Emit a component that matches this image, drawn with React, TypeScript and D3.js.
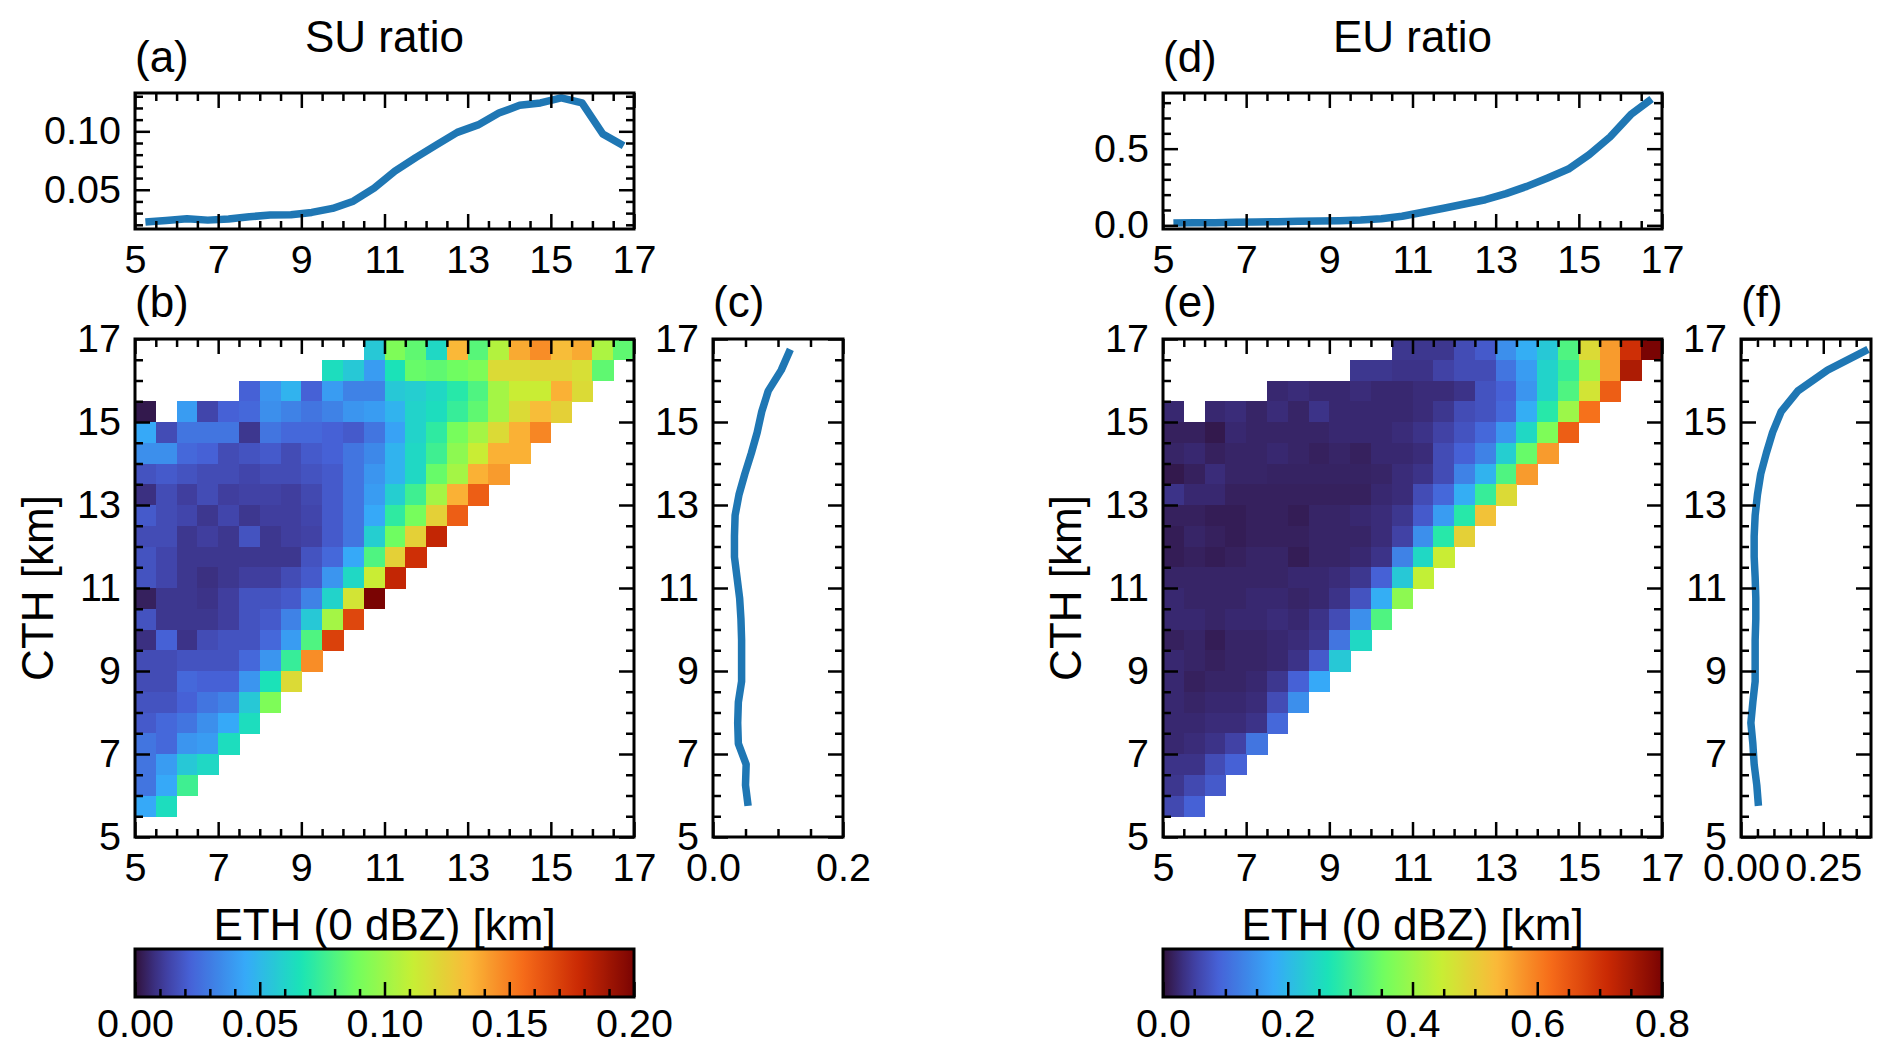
import React, { useRef, useEffect } from 'react';
import * as d3 from 'd3';

const _ = null;

// bin centres [km]
const ETH_BINS = [5.25, 5.75, 6.25, 6.75, 7.25, 7.75, 8.25, 8.75, 9.25, 9.75, 10.25, 10.75,
  11.25, 11.75, 12.25, 12.75, 13.25, 13.75, 14.25, 14.75, 15.25, 15.75, 16.25, 16.75];
// heatmap rows run from the top (16.75 km) down to the bottom (5.25 km)
const CTH_ROWS = [16.75, 16.25, 15.75, 15.25, 14.75, 14.25, 13.75, 13.25, 12.75, 12.25, 11.75, 11.25,
  10.75, 10.25, 9.75, 9.25, 8.75, 8.25, 7.75, 7.25, 6.75, 6.25, 5.75, 5.25];
const CTH_LINE = [5.75, 6.25, 6.75, 7.25, 7.75, 8.25, 8.75, 9.25, 9.75, 10.25, 10.75, 11.25,
  11.75, 12.25, 12.75, 13.25, 13.75, 14.25, 14.75, 15.25, 15.75, 16.25, 16.75];

const SU_BY_ETH = [0.0223, 0.0237, 0.0251, 0.024, 0.025, 0.0269, 0.0283, 0.0286, 0.0306, 0.034, 0.0402, 0.0514,
  0.0659, 0.0775, 0.0884, 0.0991, 0.1055, 0.1156, 0.1223, 0.1243, 0.1286, 0.1243, 0.0977, 0.0876];
const SU_BY_CTH = [0.054, 0.050, 0.051, 0.039, 0.038, 0.039, 0.044, 0.044, 0.044, 0.043, 0.041, 0.037,
  0.033, 0.033, 0.034, 0.040, 0.049, 0.059, 0.068, 0.075, 0.085, 0.105, 0.119];
const EU_BY_ETH = [0.015, 0.017, 0.017, 0.020, 0.022, 0.024, 0.026, 0.028, 0.030, 0.035, 0.043, 0.059,
  0.085, 0.111, 0.139, 0.167, 0.207, 0.254, 0.309, 0.367, 0.461, 0.576, 0.722, 0.824];
const EU_BY_CTH = [0.053, 0.048, 0.040, 0.036, 0.030, 0.036, 0.043, 0.043, 0.043, 0.045, 0.045, 0.043,
  0.040, 0.040, 0.043, 0.050, 0.060, 0.077, 0.096, 0.122, 0.173, 0.263, 0.386];

// SU ratio per (CTH row, ETH column); missing tail = empty
const SU_GRID: (number | null)[][] = [
  [_, _, _, _, _, _, _, _, _, _, _, .056, .092, .084, .062, .134, .082, .106, .138, .146, .132, .138, .104, .084],
  [_, _, _, _, _, _, _, _, _, .064, .056, .040, .066, .086, .084, .088, .092, .120, .120, .122, .122, .118, .084],
  [_, _, _, _, _, .022, .038, .048, .022, .040, .032, .032, .056, .058, .062, .070, .080, .102, .112, .112, .136, .120],
  [.002, _, .040, .014, .022, .024, .036, .032, .028, .032, .038, .040, .048, .060, .064, .074, .084, .102, .120, .132, .124],
  [.044, .016, .028, .028, .028, .010, .028, .024, .024, .022, .020, .028, .042, .060, .072, .090, .102, .120, .136, .148],
  [.036, .036, .024, .022, .016, .018, .020, .016, .020, .022, .028, .034, .048, .062, .076, .096, .112, .136, .136],
  [.018, .020, .018, .016, .016, .014, .016, .016, .018, .020, .028, .038, .048, .062, .086, .102, .136, .142],
  [.008, .016, .012, .016, .012, .013, .013, .012, .015, .020, .028, .040, .058, .076, .102, .136, .160],
  [.020, .016, .014, .010, .014, .010, .012, .012, .014, .020, .028, .044, .072, .090, .124, .160],
  [.016, .016, .010, .012, .010, .018, .010, .012, .013, .020, .028, .058, .088, .124, .180],
  [.018, .014, .010, .010, .010, .010, .010, .010, .018, .024, .044, .080, .124, .176],
  [.018, .014, .010, .008, .010, .012, .012, .016, .020, .038, .062, .112, .180],
  [.004, .010, .010, .009, .012, .018, .018, .020, .032, .060, .116, .200],
  [.018, .010, .010, .010, .012, .018, .020, .032, .056, .102, .168],
  [.008, .022, .009, .016, .018, .018, .024, .040, .080, .170],
  [.016, .016, .018, .018, .018, .024, .038, .074, .146],
  [.016, .016, .024, .022, .022, .038, .066, .120],
  [.018, .018, .022, .028, .032, .056, .092],
  [.020, .024, .028, .036, .044, .064],
  [.028, .024, .038, .040, .064],
  [.028, .040, .056, .062],
  [.028, .044, .076],
  [.044, .064],
  [],
];

// EU ratio per (CTH row, ETH column)
const EU_GRID: (number | null)[][] = [
  [_, _, _, _, _, _, _, _, _, _, _, .040, .040, .040, .064, .080, .144, .184, .224, .320, .480, .568, .704, .800],
  [_, _, _, _, _, _, _, _, _, .040, .040, .036, .036, .052, .064, .064, .112, .160, .240, .296, .408, .568, .744],
  [_, _, _, _, _, .024, .028, .024, .024, .028, .024, .024, .028, .028, .036, .072, .088, .152, .240, .320, .464, .640],
  [.024, _, .024, .028, .020, .028, .020, .036, .024, .024, .024, .024, .028, .040, .064, .072, .096, .184, .280, .400, .616],
  [.016, .016, .008, .024, .020, .020, .020, .020, .024, .024, .024, .028, .036, .052, .072, .096, .152, .248, .368, .640],
  [.020, .024, .016, .020, .020, .024, .020, .016, .020, .016, .024, .024, .028, .064, .088, .128, .232, .344, .568],
  [.008, .016, .028, .020, .020, .018, .018, .018, .018, .018, .020, .028, .036, .064, .128, .192, .320, .568],
  [.036, .024, .024, .016, .016, .016, .016, .016, .016, .016, .024, .028, .064, .096, .184, .296, .480],
  [.016, .016, .012, .012, .016, .016, .012, .020, .020, .024, .028, .040, .080, .160, .280, .520],
  [.012, .020, .016, .012, .016, .016, .016, .020, .020, .020, .028, .052, .144, .280, .496],
  [.012, .016, .012, .016, .020, .020, .012, .020, .020, .024, .036, .128, .248, .448],
  [.020, .020, .020, .020, .020, .020, .024, .024, .028, .040, .088, .224, .440],
  [.024, .020, .020, .020, .024, .024, .020, .024, .036, .072, .184, .384],
  [.024, .024, .020, .024, .024, .028, .024, .036, .064, .144, .320],
  [.016, .020, .012, .020, .020, .024, .028, .040, .112, .248],
  [.024, .020, .016, .020, .020, .024, .036, .080, .224],
  [.024, .016, .020, .020, .024, .040, .088, .176],
  [.024, .020, .024, .024, .028, .064, .144],
  [.024, .024, .028, .028, .036, .096],
  [.024, .028, .036, .052, .112],
  [.036, .036, .064, .088],
  [.040, .060, .080],
  [.060, .088],
  [],
];

const KM_TICKS = [5, 7, 9, 11, 13, 15, 17];
const SU_TOP_TICKS = [0.05, 0.10];
const EU_TOP_TICKS = [0.0, 0.5];
const SU_SIDE_TICKS = [0.0, 0.2];
const EU_SIDE_TICKS = [0.0, 0.25];
const SU_CBAR_TICKS = [0.0, 0.05, 0.10, 0.15, 0.20];
const EU_CBAR_TICKS = [0.0, 0.2, 0.4, 0.6, 0.8];

const FONT = '"Liberation Sans", Arial, Helvetica, sans-serif';
const LINE_COLOR = '#1f77b4';
const TICK_FS = 39.5;
const LABEL_FS = 44;
const MAJOR = 15;
const MINOR = 8;

// matplotlib "turbo" anchor colours
const TURBO_POS = [0, 0.039, 0.0667, 0.111, 0.222, 0.333, 0.444, 0.556, 0.667, 0.778, 0.889, 1];
const TURBO_HEX = ['#30123b', '#3b2f80', '#4143a7', '#4662d7', '#36aaf9', '#1ae4b6', '#72fe5e',
  '#c7ef34', '#faba39', '#f66b19', '#cb2a04', '#7a0403'];
const turbo = d3.scaleLinear<string>().domain(TURBO_POS).range(TURBO_HEX).interpolate(d3.interpolateRgb).clamp(true);

const minors = (lo: number, hi: number, step: number, major: number[]) =>
  d3.range(Math.round(lo / step), Math.round(hi / step) + 1)
    .map(k => +(k * step).toFixed(4))
    .filter(v => !major.some(m => Math.abs(m - v) < 1e-6));

type Sel = d3.Selection<SVGGElement, unknown, null, undefined>;

function styleAxis(sel: Sel) {
  sel.select('.domain').remove();
  sel.selectAll('line').attr('stroke', '#000').attr('stroke-width', 2.5);
  sel.selectAll('text').attr('font-family', FONT).attr('font-size', TICK_FS).attr('fill', '#000');
}

function frame(g: Sel, x: d3.ScaleLinear<number, number>, y: d3.ScaleLinear<number, number>,
  xMajor: number[], xMinor: number[], yMajor: number[], yMinor: number[],
  xFmt: (d: number) => string, yFmt: (d: number) => string) {
  const [l, r] = x.range();
  const [b, t] = y.range();
  const none = () => '';
  g.append('g').attr('transform', `translate(0,${b})`)
    .call(d3.axisBottom(x).tickValues(xMajor).tickSize(-MAJOR).tickPadding(16).tickFormat(xFmt as any)).call(styleAxis);
  g.append('g').attr('transform', `translate(0,${b})`)
    .call(d3.axisBottom(x).tickValues(xMinor).tickSize(-MINOR).tickFormat(none)).call(styleAxis);
  g.append('g').attr('transform', `translate(0,${t})`)
    .call(d3.axisTop(x).tickValues(xMajor).tickSize(-MAJOR).tickFormat(none)).call(styleAxis);
  g.append('g').attr('transform', `translate(0,${t})`)
    .call(d3.axisTop(x).tickValues(xMinor).tickSize(-MINOR).tickFormat(none)).call(styleAxis);
  g.append('g').attr('transform', `translate(${l},0)`)
    .call(d3.axisLeft(y).tickValues(yMajor).tickSize(-MAJOR).tickPadding(14).tickFormat(yFmt as any)).call(styleAxis);
  g.append('g').attr('transform', `translate(${l},0)`)
    .call(d3.axisLeft(y).tickValues(yMinor).tickSize(-MINOR).tickFormat(none)).call(styleAxis);
  g.append('g').attr('transform', `translate(${r},0)`)
    .call(d3.axisRight(y).tickValues(yMajor).tickSize(-MAJOR).tickFormat(none)).call(styleAxis);
  g.append('g').attr('transform', `translate(${r},0)`)
    .call(d3.axisRight(y).tickValues(yMinor).tickSize(-MINOR).tickFormat(none)).call(styleAxis);
  g.append('rect').attr('x', l).attr('y', t).attr('width', r - l).attr('height', b - t)
    .attr('fill', 'none').attr('stroke', '#000').attr('stroke-width', 3);
}

function text(g: Sel, x: number, y: number, s: string, anchor = 'start', rotate = false) {
  g.append('text').attr('x', rotate ? 0 : x).attr('y', rotate ? 0 : y)
    .attr('transform', rotate ? `translate(${x},${y}) rotate(-90)` : null)
    .attr('text-anchor', anchor).attr('font-family', FONT).attr('font-size', LABEL_FS).attr('fill', '#000')
    .text(s);
}

const fmt2 = d3.format('.2f');
const fmt1 = d3.format('.1f');
const fmt0 = d3.format('d');

interface ColumnCfg {
  dx: number;
  title: string;
  letters: [string, string, string];
  byEth: number[];
  byCth: number[];
  grid: (number | null)[][];
  vmax: number;
  topDomain: [number, number];
  topTicks: number[];
  topStep: number;
  topFmt: (d: number) => string;
  sideMax: number;
  sideTicks: number[];
  sideFmt: (d: number) => string;
  cbarTicks: number[];
  cbarStep: number;
  cbarFmt: (d: number) => string;
  gradId: string;
}

function drawColumn(svg: d3.Selection<SVGSVGElement, unknown, null, undefined>, c: ColumnCfg) {
  const g = svg.append('g').attr('transform', `translate(${c.dx},0)`) as unknown as Sel;
  const X0 = 135, X1 = 634, S0 = 713, S1 = 843;
  const TY0 = 93, TY1 = 229, MY0 = 339, MY1 = 837, CY0 = 949, CY1 = 997;

  const xKm = d3.scaleLinear().domain([5, 17]).range([X0, X1]);
  const yKm = d3.scaleLinear().domain([5, 17]).range([MY1, MY0]);
  const color = (v: number) => turbo(v / c.vmax);
  const kmMinor = minors(5, 17, 0.5, KM_TICKS);

  // top: ratio vs ETH
  const yTop = d3.scaleLinear().domain(c.topDomain).range([TY1, TY0]);
  g.append('path').datum(c.byEth.map((v, i) => [ETH_BINS[i], v] as [number, number]))
    .attr('d', d3.line<[number, number]>().x(d => xKm(d[0])).y(d => yTop(d[1])))
    .attr('fill', 'none').attr('stroke', LINE_COLOR).attr('stroke-width', 7.5).attr('stroke-linejoin', 'round');
  const tMinor = minors(c.topDomain[0], c.topDomain[1], c.topStep, c.topTicks)
    .filter(v => v > c.topDomain[0] && v < c.topDomain[1]);
  frame(g, xKm, yTop, KM_TICKS, kmMinor, c.topTicks, tMinor, fmt0, c.topFmt);

  // heatmap
  const cells = g.append('g').attr('shape-rendering', 'crispEdges');
  c.grid.forEach((row, r) => {
    row.forEach((v, col) => {
      if (v === null || v === undefined) return;
      const ex = ETH_BINS[col], cy = CTH_ROWS[r];
      cells.append('rect')
        .attr('x', xKm(ex - 0.25)).attr('y', yKm(cy + 0.25))
        .attr('width', xKm(ex + 0.25) - xKm(ex - 0.25) + 0.6)
        .attr('height', yKm(cy - 0.25) - yKm(cy + 0.25) + 0.6)
        .attr('fill', color(v));
    });
  });
  frame(g, xKm, yKm, KM_TICKS, kmMinor, KM_TICKS, kmMinor, fmt0, fmt0);

  // side: ratio vs CTH
  const xSide = d3.scaleLinear().domain([0, c.sideMax]).range([S0, S1]);
  g.append('path').datum(c.byCth.map((v, i) => [v, CTH_LINE[i]] as [number, number]))
    .attr('d', d3.line<[number, number]>().x(d => xSide(d[0])).y(d => yKm(d[1])))
    .attr('fill', 'none').attr('stroke', LINE_COLOR).attr('stroke-width', 7.5).attr('stroke-linejoin', 'round');
  frame(g, xSide, yKm, c.sideTicks, minors(0, c.sideMax, 0.05, c.sideTicks).filter(v => v < c.sideMax),
    KM_TICKS, kmMinor, c.sideFmt, fmt0);

  // colorbar
  const grad = svg.append('defs').append('linearGradient').attr('id', c.gradId)
    .attr('x1', '0').attr('x2', '1').attr('y1', '0').attr('y2', '0');
  d3.range(0, 101).forEach(k => {
    grad.append('stop').attr('offset', `${k}%`).attr('stop-color', turbo(k / 100));
  });
  g.append('rect').attr('x', X0).attr('y', CY0).attr('width', X1 - X0).attr('height', CY1 - CY0)
    .attr('fill', `url(#${c.gradId})`);
  const xC = d3.scaleLinear().domain([0, c.vmax]).range([X0, X1]);
  g.append('g').attr('transform', `translate(0,${CY1})`)
    .call(d3.axisBottom(xC).tickValues(c.cbarTicks).tickSize(-MAJOR).tickPadding(12).tickFormat(c.cbarFmt as any))
    .call(styleAxis);
  g.append('g').attr('transform', `translate(0,${CY1})`)
    .call(d3.axisBottom(xC).tickValues(minors(0, c.vmax, c.cbarStep, c.cbarTicks)).tickSize(-MINOR).tickFormat(() => ''))
    .call(styleAxis);
  g.append('rect').attr('x', X0).attr('y', CY0).attr('width', X1 - X0).attr('height', CY1 - CY0)
    .attr('fill', 'none').attr('stroke', '#000').attr('stroke-width', 3);

  // texts
  text(g, (X0 + X1) / 2, 52, c.title, 'middle');
  text(g, X0, 72, c.letters[0]);
  text(g, X0, 317, c.letters[1]);
  text(g, S0, 317, c.letters[2]);
  text(g, (X0 + X1) / 2, 940, 'ETH (0 dBZ) [km]', 'middle');
  text(g, 53, (MY0 + MY1) / 2, 'CTH [km]', 'middle', true);
}

const App: React.FC = () => {
  const svgRef = useRef<SVGSVGElement>(null);

  useEffect(() => {
    if (!svgRef.current) return;
    const svg = d3.select(svgRef.current);
    svg.selectAll('*').remove();

    drawColumn(svg, {
      dx: 0, title: 'SU ratio', letters: ['(a)', '(b)', '(c)'],
      byEth: SU_BY_ETH, byCth: SU_BY_CTH, grid: SU_GRID, vmax: 0.2,
      topDomain: [0.0164, 0.1328], topTicks: SU_TOP_TICKS, topStep: 0.01, topFmt: fmt2,
      sideMax: 0.2, sideTicks: SU_SIDE_TICKS, sideFmt: fmt1,
      cbarTicks: SU_CBAR_TICKS, cbarStep: 0.01, cbarFmt: fmt2, gradId: 'cbarSU',
    });
    drawColumn(svg, {
      dx: 1028, title: 'EU ratio', letters: ['(d)', '(e)', '(f)'],
      byEth: EU_BY_ETH, byCth: EU_BY_CTH, grid: EU_GRID, vmax: 0.8,
      topDomain: [-0.024, 0.863], topTicks: EU_TOP_TICKS, topStep: 0.1, topFmt: fmt1,
      sideMax: 0.395, sideTicks: EU_SIDE_TICKS, sideFmt: fmt2,
      cbarTicks: EU_CBAR_TICKS, cbarStep: 0.05, cbarFmt: fmt1, gradId: 'cbarEU',
    });
  }, []);

  return (
    <div style={{ position: 'absolute', left: 0, top: 0, background: '#fff' }}>
      <svg ref={svgRef} width={1892} height={1058} style={{ display: 'block', background: '#fff' }} />
    </div>
  );
};

export default App;
